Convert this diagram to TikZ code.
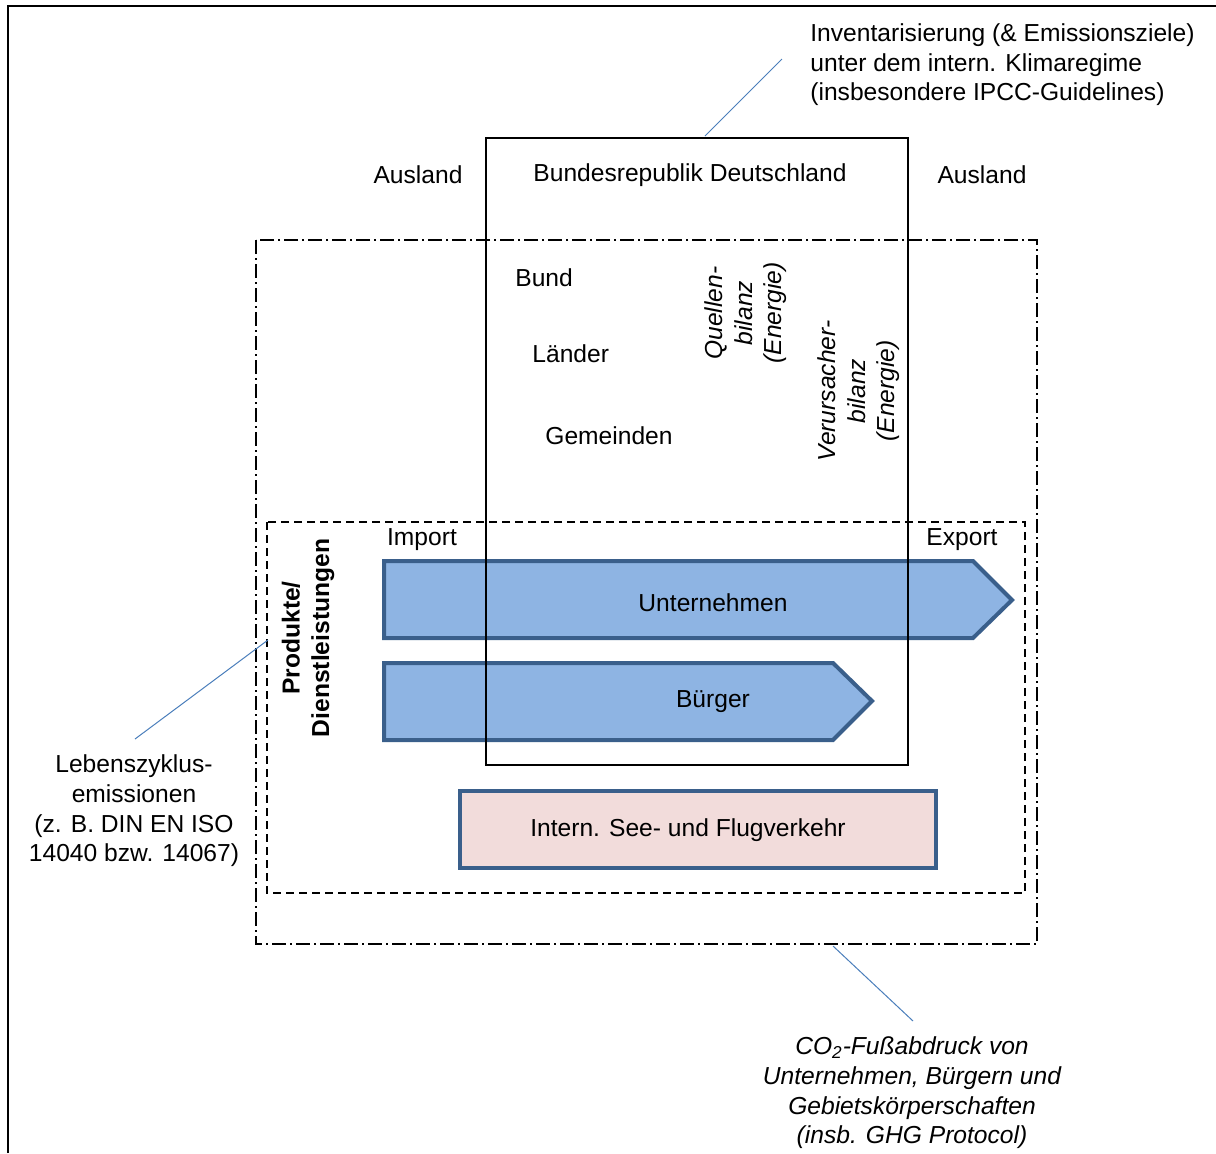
\documentclass[tikz,border=0pt]{standalone}
\usepackage{fontspec}
\setmainfont{Liberation Sans}
\definecolor{arrfill}{HTML}{8EB4E3}
\definecolor{arrline}{HTML}{3A5F8B}
\definecolor{pinkfill}{HTML}{F2DCDB}
\definecolor{leadercol}{HTML}{4A7EBB}
\begin{document}
\begin{tikzpicture}[x=0.5pt,y=-0.5pt,
  txt/.style={font=\fontsize{12.3}{14.8}\selectfont, inner sep=0pt, align=center},
  itxt/.style={txt, font=\fontsize{12.3}{14.8}\selectfont\itshape},
  flow/.style={fill=arrfill, draw=arrline, line width=2pt, line join=miter},
  leader/.style={draw=leadercol, line width=0.5pt},
  dashbox/.style={line width=0.75pt, dash pattern=on 4pt off 2.5pt},
  dashdotbox/.style={line width=0.75pt, dash pattern=on 7pt off 2pt on 1pt off 2pt}]
\useasboundingbox (0,0) rectangle (1216,1153);
% outer frame (top and left edges)
\draw[line width=1pt] (8,1153) -- (8,6) -- (1216,6);
% regions
\draw[dashdotbox] (256,240) rectangle (1037,944);
\draw[dashbox] (267,522) rectangle (1025,893);
% flows
\draw[flow] (384,561) -- (973,561) -- (1012,600) -- (973,638) -- (384,638) -- cycle;
\draw[flow] (384,663) -- (833,663) -- (872,701) -- (833,740) -- (384,740) -- cycle;
\draw[fill=pinkfill, draw=arrline, line width=2pt] (460,791) rectangle (936,868);
% Germany box
\draw[line width=0.75pt] (486,138) rectangle (908,765);
% texts
\node[txt] (ausl) at (418,175) {Ausland};
\node[txt] (brd) at (690,175) {Bundesrepublik Deutschland};
\node[txt] (ausr) at (982,175) {Ausland};
\node[txt, anchor=west] (bund) at (515,278) {Bund};
\node[txt, anchor=west] (laender) at (532,354) {Länder};
\node[txt, anchor=west] (gem) at (545,436) {Gemeinden};
\node[itxt, rotate=90] (quellen) at (746,313) {Quellen-\\bilanz\\(Energie)};
\node[itxt, rotate=90] (verurs) at (859,391) {Verursacher-\\bilanz\\(Energie)};
\node[txt] (import) at (422,540) {Import};
\node[txt] (export) at (962,540) {Export};
\node[txt] (untern) at (713,603) {Unternehmen};
\node[txt] (buerger) at (713,702) {Bürger};
\node[txt] (see) at (688,830) {Intern. See- und Flugverkehr};
\node[txt, font=\fontsize{12.3}{14.8}\selectfont\bfseries, rotate=90] (prod) at (308,638) {Produkte/\\Dienstleistungen};
\node[txt, align=left, anchor=west] (inv) at (810,65) {Inventarisierung (\& Emissionsziele)\\unter dem intern. Klimaregime\\(insbesondere IPCC-Guidelines)};
\node[txt] (leben) at (134,811) {Lebenszyklus-\\emissionen\\(z. B. DIN EN ISO\\14040 bzw. 14067)};
\node[itxt] (co2) at (912,1093) {CO\textsubscript{2}-Fußabdruck von\\Unternehmen, Bürgern und\\Gebietskörperschaften\\(insb. GHG Protocol)};
% leader lines
\coordinate (c1a) at (705,136); \coordinate (c1b) at (782,59);
\coordinate (c2a) at (268,640); \coordinate (c2b) at (135,739);
\coordinate (c3a) at (833,946); \coordinate (c3b) at (913,1021);
\draw[leader] (c1a) -- (c1b);
\draw[leader] (c2a) -- (c2b);
\draw[leader] (c3a) -- (c3b);
\end{tikzpicture}
\end{document}
